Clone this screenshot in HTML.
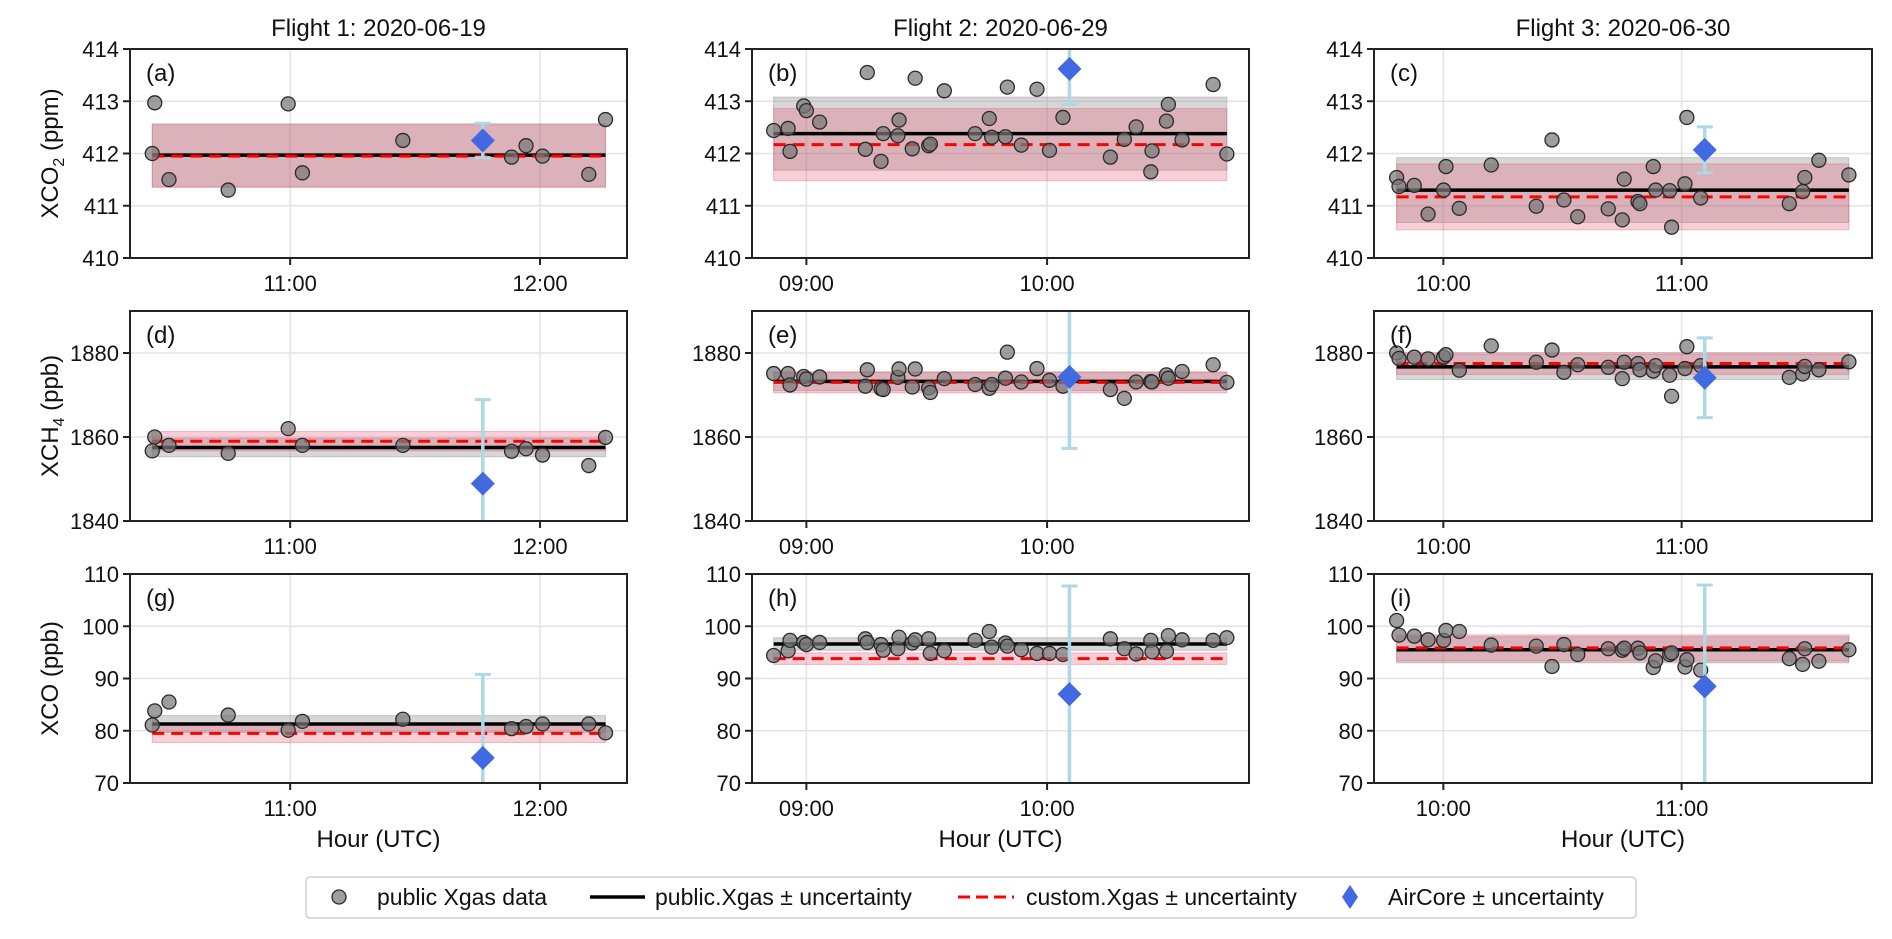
<!DOCTYPE html>
<html><head><meta charset="utf-8"><style>
html,body{margin:0;padding:0;background:#fff;}
svg{display:block;font-family:"Liberation Sans",Arial,sans-serif;}
</style></head><body>
<svg id="fig" width="1892" height="939" viewBox="0 0 1892 939" xmlns="http://www.w3.org/2000/svg"></svg>
<script>
// ---- data ----
const flightTitles = ["Flight 1: 2020-06-19","Flight 2: 2020-06-29","Flight 3: 2020-06-30"];
const xTicks1 = [11, 12];
const xTicks2 = [9, 10];
const xTicks3 = [10, 11];
const xLim1 = [10.359, 12.348];
const xLim2 = [8.774, 10.839];
const xLim3 = [9.709, 11.799];
const yTicksCO2 = [410, 411, 412, 413, 414];
const yTicksCH4 = [1840, 1860, 1880];
const yTicksCO = [70, 80, 90, 100, 110];
const yLimCO2 = [410, 414];
const yLimCH4 = [1840, 1890];
const yLimCO = [70, 110];
const panelLetters = ["(a)","(b)","(c)","(d)","(e)","(f)","(g)","(h)","(i)"];

const times1 = [10.448,10.458,10.515,10.752,10.992,11.049,11.451,11.886,11.944,12.010,12.195,12.262];
const times2 = [8.864,8.924,8.932,8.989,9.000,9.055,9.245,9.253,9.310,9.319,9.380,9.385,9.440,9.452,9.508,9.515,9.573,9.701,9.760,9.770,9.827,9.835,9.893,9.958,10.010,10.066,10.263,10.321,10.370,10.431,10.436,10.496,10.504,10.561,10.690,10.747];
const times3 = [9.804,9.814,9.878,9.936,10.001,10.011,10.067,10.201,10.390,10.456,10.506,10.564,10.692,10.751,10.759,10.817,10.825,10.881,10.891,10.950,10.958,11.014,11.022,11.080,11.452,11.508,11.517,11.576,11.702];

const co2F1 = [412.0,412.97,411.5,411.3,412.95,411.63,412.25,411.93,412.15,411.95,411.6,412.65];
const ch4F1 = [1856.7,1860.0,1858.0,1856.1,1862.0,1858.0,1858.0,1856.6,1857.2,1855.7,1853.2,1859.9];
const coF1 = [81.1,83.8,85.5,83.0,80.1,81.8,82.2,80.4,80.8,81.3,81.3,79.6];

const co2F2 = [412.44,412.48,412.04,412.91,412.82,412.60,412.08,413.55,411.85,412.38,412.34,412.64,412.09,413.44,412.15,412.18,413.20,412.38,412.67,412.31,412.32,413.27,412.16,413.23,412.06,412.69,411.93,412.27,412.51,411.65,412.05,412.62,412.94,412.26,413.32,411.99];
const ch4F2 = [1875.1,1875.1,1872.4,1874.4,1873.8,1874.3,1872.1,1876.0,1871.5,1871.3,1874.2,1876.2,1871.9,1876.2,1871.7,1870.6,1873.9,1872.5,1871.6,1872.5,1874.0,1880.2,1873.1,1876.3,1873.5,1872.1,1871.3,1869.2,1873.1,1873.2,1873.1,1874.8,1874.0,1875.6,1877.2,1873.0];
const coF2 = [94.4,95.3,97.3,96.9,96.5,96.9,97.6,96.9,96.5,95.4,95.7,97.9,96.8,97.4,97.6,94.8,95.3,97.3,99.0,96.0,96.8,96.2,95.5,94.8,94.8,94.6,97.6,95.7,94.7,97.3,95.1,95.2,98.2,97.4,97.3,97.8];

const co2F3 = [411.54,411.37,411.39,410.84,411.30,411.75,410.95,411.78,410.99,412.26,411.11,410.79,410.94,410.73,411.51,411.08,411.04,411.75,411.30,411.29,410.59,411.42,412.69,411.15,411.04,411.27,411.54,411.87,411.59];
const ch4F3 = [1880.0,1878.7,1879.0,1878.6,1879.0,1879.6,1875.9,1881.7,1877.8,1880.7,1875.4,1877.2,1876.6,1873.9,1877.8,1877.5,1876.0,1875.7,1877.0,1874.7,1869.7,1876.3,1881.5,1877.0,1874.2,1875.0,1876.8,1876.0,1877.9];
const coF3 = [101.1,98.3,98.1,97.4,97.3,99.2,99.0,96.4,96.2,92.3,96.5,94.6,95.7,95.4,95.8,95.8,94.9,92.1,93.4,94.6,94.9,92.2,93.6,91.6,93.8,92.7,95.7,93.3,95.5];

// summary per panel a..i
const publicMean = [411.97,412.38,411.30,1857.5,1873.25,1876.7,81.3,96.6,95.5];
const publicUnc  = [0.6,0.7,0.62,2.2,2.2,3.0,1.6,1.2,2.5];
const customMean = [411.95,412.17,411.17,1859.0,1873.0,1877.5,79.5,93.8,95.85];
const customUnc  = [0.6,0.69,0.63,2.3,2.5,2.6,1.75,1.1,2.5];
const aircoreTime = [11.771,10.093,11.097,11.771,10.093,11.097,11.771,10.093,11.097];
const aircoreVal  = [412.25,413.62,412.07,1848.9,1874.3,1874.1,74.8,87.0,88.5];
const aircoreErr  = [0.33,0.68,0.44,20,17,9.5,16,20.7,19.4];
</script>
<script>
const NS = "http://www.w3.org/2000/svg";
const svg = document.getElementById('fig');
function mk(tag, attrs, parent){
  const e = document.createElementNS(NS, tag);
  for (const k in attrs) e.setAttribute(k, attrs[k]);
  (parent||svg).appendChild(e);
  return e;
}
const colX = [[130,627],[752,1249],[1374,1872]];
const rowY = [[49,258],[311,521],[574,783]];
const xLims = [xLim1,xLim2,xLim3];
const xTickSets = [xTicks1,xTicks2,xTicks3];
const timeSets = [times1,times2,times3];
const yLims = [yLimCO2,yLimCH4,yLimCO];
const yTickSets = [yTicksCO2,yTicksCH4,yTicksCO];
const valueSets = [[co2F1,co2F2,co2F3],[ch4F1,ch4F2,ch4F3],[coF1,coF2,coF3]];
const gases = ["co2","ch4","co"];
function fmtHour(h){ return String(Math.floor(h)).padStart(2,'0')+":00"; }

const defs = mk('defs',{});
for (let r=0;r<3;r++){
  for (let c=0;c<3;c++){
    const idx = r*3+c;
    const [x0,x1]=colX[c], [y0,y1]=rowY[r];
    const xl=xLims[c], yl=yLims[r];
    const sx = v => x0 + (v-xl[0])/(xl[1]-xl[0])*(x1-x0);
    const sy = v => y1 - (v-yl[0])/(yl[1]-yl[0])*(y1-y0);
    const cp = mk('clipPath',{id:'cp'+idx},defs);
    mk('rect',{x:x0,y:y0,width:x1-x0,height:y1-y0},cp);
    const g = mk('g',{});
    
    
    for (const t of xTickSets[c]) {
      const gl = mk('line',{x1:sx(t),x2:sx(t),y1:y0,y2:y1,stroke:'#e3e3e3','stroke-width':1.5},g);
      
      
    }
    for (const t of yTickSets[r]) {
      const gl = mk('line',{x1:x0,x2:x1,y1:sy(t),y2:sy(t),stroke:'#e3e3e3','stroke-width':1.5},g);
      
      
    }
    const pg = mk('g',{'clip-path':'url(#cp'+idx+')'},g);
    const times = timeSets[c], vals = valueSets[r][c];
    const tA = Math.min(...times), tB = Math.max(...times);
    const gb = mk('rect',{x:sx(tA),width:sx(tB)-sx(tA),y:sy(publicMean[idx]+publicUnc[idx]),height:sy(publicMean[idx]-publicUnc[idx])-sy(publicMean[idx]+publicUnc[idx]),fill:'rgba(140,140,140,0.35)',stroke:'rgba(120,120,120,0.35)','stroke-width':1},pg);
    
    
    const pb = mk('rect',{x:sx(tA),width:sx(tB)-sx(tA),y:sy(customMean[idx]+customUnc[idx]),height:sy(customMean[idx]-customUnc[idx])-sy(customMean[idx]+customUnc[idx]),fill:'rgba(230,80,110,0.28)',stroke:'rgba(220,80,110,0.35)','stroke-width':1},pg);
    
    
    const pl = mk('line',{x1:sx(tA),x2:sx(tB),y1:sy(publicMean[idx]),y2:sy(publicMean[idx]),stroke:'#000','stroke-width':3.5},pg);
    
    
    const cl = mk('line',{x1:sx(tA),x2:sx(tB),y1:sy(customMean[idx]),y2:sy(customMean[idx]),stroke:'#ff0000','stroke-width':3,'stroke-dasharray':'12,7'},pg);
    
    
    for (let i=0;i<times.length;i++){
      const p = mk('circle',{cx:sx(times[i]),cy:sy(vals[i]),r:7,fill:'rgba(120,120,120,0.72)',stroke:'#2a2a2a','stroke-width':1.3},pg);
      
      
    }
    const ax = sx(aircoreTime[idx]), ay = sy(aircoreVal[idx]);
    const eTop = sy(aircoreVal[idx]+aircoreErr[idx]), eBot = sy(aircoreVal[idx]-aircoreErr[idx]);
    const eb = mk('g',{},pg);
    
    
    mk('line',{x1:ax,x2:ax,y1:eTop,y2:eBot,stroke:'#add8e6','stroke-width':3.5},eb);
    mk('line',{x1:ax-8,x2:ax+8,y1:eTop,y2:eTop,stroke:'#add8e6','stroke-width':3},eb);
    mk('line',{x1:ax-8,x2:ax+8,y1:eBot,y2:eBot,stroke:'#add8e6','stroke-width':3},eb);
    const dm = mk('polygon',{points:`${ax},${ay-12} ${ax+12},${ay} ${ax},${ay+12} ${ax-12},${ay}`,fill:'#4169e1'},pg);
    
    
    mk('rect',{x:x0,y:y0,width:x1-x0,height:y1-y0,fill:'none',stroke:'#222','stroke-width':2},g);
    for (const t of xTickSets[c]) {
      mk('line',{x1:sx(t),x2:sx(t),y1:y1,y2:y1+7,stroke:'#222','stroke-width':2},g);
      const tl = mk('text',{x:sx(t),y:y1+33,'text-anchor':'middle','font-size':22,fill:'#111'},g);
      tl.textContent = fmtHour(t);
      
      
    }
    for (const t of yTickSets[r]) {
      mk('line',{x1:x0-7,x2:x0,y1:sy(t),y2:sy(t),stroke:'#222','stroke-width':2},g);
      const tl = mk('text',{x:x0-11,y:sy(t)+8,'text-anchor':'end','font-size':22,fill:'#111'},g);
      tl.textContent = String(t);
      
      
    }
    const lt = mk('text',{x:x0+16,y:y0+32,'font-size':24,fill:'#111'},g);
    lt.textContent = panelLetters[idx];
    
    
  }
}
for (let c=0;c<3;c++){
  const cx=(colX[c][0]+colX[c][1])/2;
  const t = mk('text',{x:cx,y:36,'text-anchor':'middle','font-size':24,fill:'#111'});
  t.textContent = flightTitles[c];
  
  
  const xl = mk('text',{x:cx,y:847,'text-anchor':'middle','font-size':24,fill:'#111'});
  xl.textContent = 'Hour (UTC)';
  
  
}
</script>
<script>
(function(){
  const ylab = [["XCO","2"," (ppm)"],["XCH","4"," (ppb)"]];
  for (let r=0;r<3;r++){
    const cy=(rowY[r][0]+rowY[r][1])/2;
    const t = mk('text',{x:0,y:0,'text-anchor':'middle','font-size':24,fill:'#111',transform:`translate(58,${cy}) rotate(-90)`});
    
    
    if (r===2){ t.textContent='XCO (ppb)'; continue; }
    const a = mk('tspan',{},t); a.textContent = ylab[r][0];
    const s = mk('tspan',{'font-size':16,dy:6},t); s.textContent = ylab[r][1];
    const b = mk('tspan',{dy:-6},t); b.textContent = ylab[r][2];
  }
  const lg = mk('g',{});
  
  
  mk('rect',{x:306,y:877,width:1330,height:41,rx:4,fill:'#fff',stroke:'#d0d0d0','stroke-width':1.5},lg);
  const e1 = mk('g',{},lg);
  
  
  mk('circle',{cx:339,cy:897,r:7,fill:'rgba(120,120,120,0.72)',stroke:'#2a2a2a','stroke-width':1.3},e1);
  const t1 = mk('text',{x:377,y:905,'font-size':23,fill:'#111'},e1); t1.textContent='public Xgas data';
  const e2 = mk('g',{},lg);
  
  
  mk('line',{x1:590,x2:645,y1:897,y2:897,stroke:'#000','stroke-width':3.5},e2);
  const t2 = mk('text',{x:655,y:905,'font-size':23,fill:'#111'},e2); t2.textContent='public.Xgas ± uncertainty';
  const e3 = mk('g',{},lg);
  
  
  mk('line',{x1:958,x2:1014,y1:897,y2:897,stroke:'#ff0000','stroke-width':3,'stroke-dasharray':'12,6'},e3);
  const t3 = mk('text',{x:1026,y:905,'font-size':23,fill:'#111'},e3); t3.textContent='custom.Xgas ± uncertainty';
  const e4 = mk('g',{},lg);
  
  
  mk('polygon',{points:'1350,885 1358,897 1350,909 1342,897',fill:'#4169e1'},e4);
  const t4 = mk('text',{x:1388,y:905,'font-size':23,fill:'#111'},e4); t4.textContent='AirCore ± uncertainty';
})();
</script>
</body></html>
